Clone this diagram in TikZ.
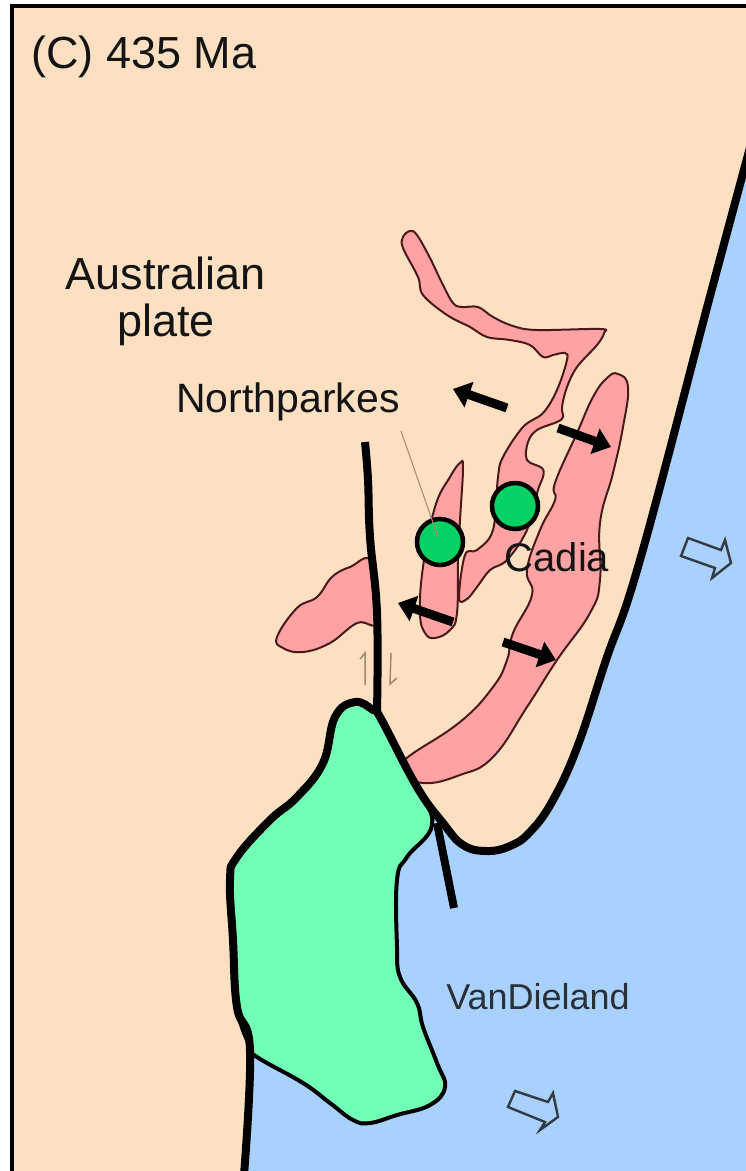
\documentclass[tikz,border=0pt]{standalone}
\usepackage{fontspec}
\setmainfont{Liberation Sans}
\usetikzlibrary{arrows.meta}
\definecolor{peach}{HTML}{FDE0C2}
\definecolor{seablue}{HTML}{A8D1FF}
\definecolor{mint}{HTML}{72FFB6}
\definecolor{rift}{HTML}{FFA2A4}
\definecolor{riftline}{HTML}{4A1A1A}
\definecolor{deposit}{HTML}{04D264}
\definecolor{inktext}{HTML}{141414}
\definecolor{shear}{HTML}{A08A6E}
\tikzset{
  riftshape/.style={fill=rift,draw=riftline,line width=2pt,line join=round},
  bold/.style={draw=black,line width=8pt,line join=round},
  push/.style={draw=black,line width=9pt,-{Triangle[length=17pt,width=26pt]}},
  openarrow/.style={draw=inktext!80!seablue,line width=2.4pt,fill=seablue,line join=miter},
  label/.style={text=inktext,inner sep=0pt,anchor=center},
  depositdot/.style={circle,fill=deposit,draw=black,line width=4.5pt,minimum size=46pt,inner sep=0pt}
}
\begin{document}
\begin{tikzpicture}[x=1pt,y=-1pt]
\useasboundingbox (0,0) rectangle (746,1171);
\clip (0,0) rectangle (746,1171);
% background
\fill[peach] (11,5) rectangle (746,1171);
% sea
\fill[seablue] plot[smooth,tension=0.7] coordinates {(752,140) (709,300) (640,560) (606,660) (578,745) (553,800) (530,832) (510,846) (487,851) (463,845) (443,823) (417,787) (380,717) (373,710) (355,702) (335,717) (323,763) (297,797) (270,820) (237,857) (230,880) (233,940) (237,1007) (250,1050) (244,1175)} -- (750,1175) -- cycle;
% frame
\draw[black,line width=4pt] (11.5,1175) -- (11.5,6) -- (750,6);
% rifts
\draw[riftshape] plot[smooth cycle,tension=0.75] coordinates {(618,374) (628,387) (623,427) (613,473) (600,523) (600,580) (590,613) (557,660) (527,707) (493,757) (460,775) (423,783) (400,770) (408,757) (460,722) (493,687) (507,660) (513,633) (532,595) (527,570) (540,530) (555,500) (555,483) (577,433) (593,397) (607,378)};
\draw[riftshape] plot[smooth cycle,tension=0.6] coordinates {(410,231) (417,235) (430,258) (442,283) (453,303) (462,307) (478,307) (493,317) (513,326) (537,330) (600,329) (604,333) (597,345) (577,367) (567,387) (562,407) (563,417) (557,422) (537,430) (528,442) (527,460) (542,468) (543,477) (538,490) (527,530) (507,560) (490,570) (477,587) (467,599) (459,598) (465,555) (477,550) (493,530) (498,477) (503,457) (523,427) (543,413) (557,390) (567,360) (565,353) (553,355) (543,357) (530,345) (510,340) (487,337) (470,327) (447,315) (423,295) (418,277) (403,248) (403,237)};
\draw[riftshape] plot[smooth cycle,tension=0.7] coordinates {(460,463) (463,468) (460,520) (458,560) (457,613) (450,630) (435,638) (425,633) (420,613) (423,567) (435,507) (450,477)};
\draw[riftshape] plot[smooth cycle,tension=0.7] coordinates {(372,562) (350,567) (332,577) (317,597) (297,608) (277,637) (283,648) (303,652) (330,643) (357,623) (378,621)};
% terrane
\draw[fill=mint,draw=black,line width=4pt,line join=round] plot[smooth cycle,tension=0.7] coordinates {(373,710) (355,702) (335,717) (323,763) (297,797) (270,820) (237,857) (230,880) (233,940) (237,1007) (250,1047) (257,1057) (303,1083) (330,1103) (353,1120) (370,1123) (397,1115) (430,1105) (445,1087) (437,1063) (423,1027) (417,1003) (400,977) (397,947) (397,880) (407,857) (432,825) (417,787) (380,717)};
% faults and coast
\draw[bold] plot[smooth,tension=0.7] coordinates {(752,140) (709,300) (640,560) (606,660) (578,745) (553,800) (530,832) (510,846) (487,851) (463,845) (443,823) (417,787) (380,717) (373,710) (355,702) (335,717) (323,763) (297,797) (270,820) (237,857) (230,880) (233,940) (237,1007) (250,1050) (244,1175)};
\draw[bold] plot[smooth,tension=0.7] coordinates {(365,442) (368,480) (370,537) (377,613) (377,712)};
\draw[bold] plot[smooth,tension=0.7] coordinates {(437,823) (446,868) (454,908)};
% deposits
\node[depositdot] (cadiadot) at (515,506) {};
\node[depositdot] (parkesdot) at (440,542) {};
\coordinate (leaderend) at (401,431);
\draw[shear,line width=1pt] (leaderend) -- (438,537);
% extension arrows
\draw[push] (507,408) -- (453,389);
\draw[push] (558,428) -- (611,447);
\draw[push] (453,622) -- (398,603);
\draw[push] (503,642) -- (556,660);
% plate motion
\draw[openarrow] (688,538) -- (721,550) -- (725,540) -- (731,563) -- (712,578) -- (715,568) -- (681,556) -- cycle;
\draw[openarrow] (515,1091) -- (548,1102) -- (553,1093) -- (558,1117) -- (540,1130) -- (545,1122) -- (508,1107) -- cycle;
% shear sense
\draw[shear,line width=1.5pt] (365,685) -- (365,653) -- (360,659);
\draw[shear,line width=1.5pt] (391,653) -- (390,684) -- (397,678);
% labels
\node[label,font=\fontsize{45}{45}\selectfont] (title) at (144,57) {(C) 435 Ma};
\node[label,font=\fontsize{45}{45}\selectfont] (plateA) at (166,273) {Australian};
\node[label,font=\fontsize{45}{45}\selectfont] (plateB) at (166,325) {plate};
\node[label,font=\fontsize{41}{41}\selectfont] (northparkes) at (288,402) {Northparkes};
\node[label,font=\fontsize{40}{40}\selectfont] (cadia) at (557,557) {Cadia};
\node[label,font=\fontsize{36}{36}\selectfont,text=inktext!85!seablue] (vandieland) at (538,997) {VanDieland};
\end{tikzpicture}
\end{document}
